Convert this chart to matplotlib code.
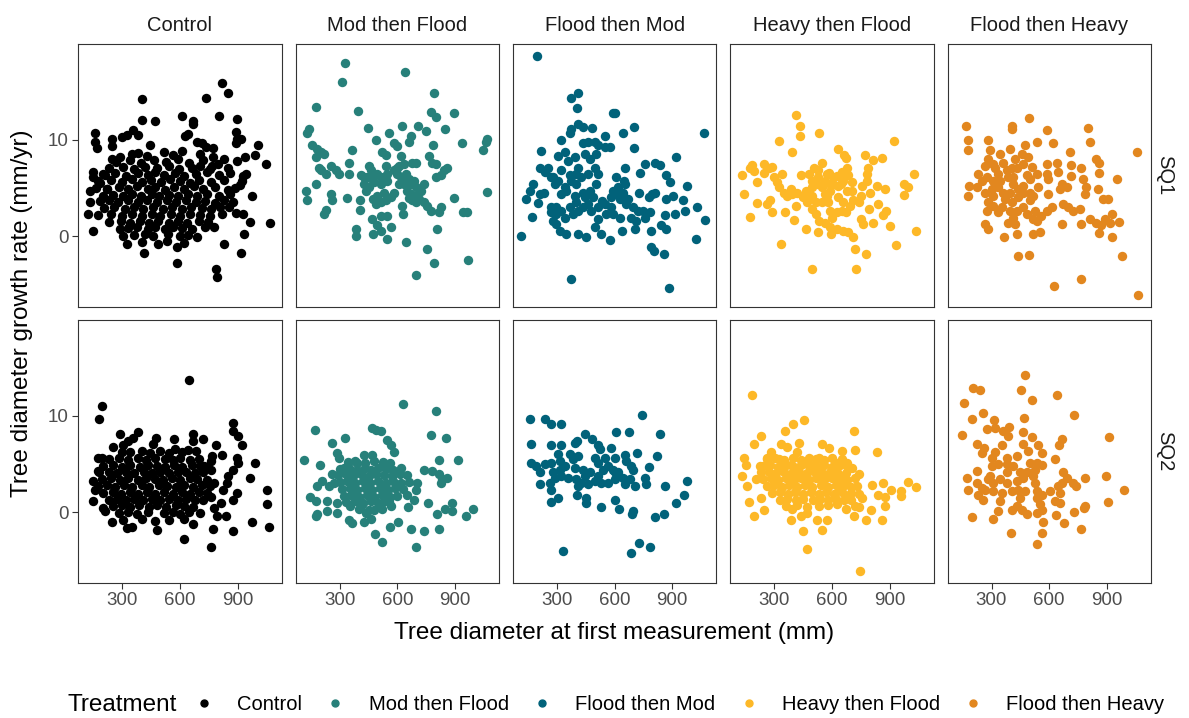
import matplotlib
matplotlib.use("Agg")
import matplotlib.pyplot as plt
from matplotlib.lines import Line2D
import numpy as np

plt.rcParams['font.family'] = ['Liberation Sans', 'DejaVu Sans']

treatments = ["Control", "Mod then Flood", "Flood then Mod", "Heavy then Flood", "Flood then Heavy"]
colours = ["#000000", "#27807A", "#01627A", "#FDB827", "#E2871F"]
periods = ["SQ1", "SQ2"]
x_ticks = [300, 600, 900]
y_ticks = [0, 10]

# (diameter mm, growth mm/yr)
ctrl_sq1 = [
    (820, 15.9), (850, 14.8), (735, 14.3), (402, 14.2), (402, 12.0), (470, 11.9), (609, 12.4), (670, 11.9),
    (670, 11.6), (803, 12.4), (898, 12.1), (158, 10.7), (158, 9.7), (167, 9.1), (245, 10.1), (245, 9.3),
    (297, 10.3), (323, 10.5), (358, 11.0), (383, 10.5), (444, 9.4), (626, 10.4), (644, 10.6), (687, 9.7),
    (713, 9.6), (735, 9.2), (773, 9.1), (890, 10.8), (895, 10.1), (918, 10.1), (890, 9.6), (1004, 9.4),
    (990, 8.4), (1047, 7.5), (936, 8.2), (895, 7.8), (829, 8.0), (773, 8.2), (768, 7.3), (245, 8.0),
    (288, 8.2), (349, 8.5), (150, 6.6), (150, 6.1), (201, 6.4), (184, 5.5), (132, 4.7), (132, 3.5),
    (123, 2.3), (150, 0.55), (201, 4.2), (218, 4.9), (288, 0.7), (305, 0.03), (323, -0.8), (413, -1.8),
    (583, -1.1), (583, -2.8), (487, -0.8), (690, -0.1), (779, 0.9), (831, -0.8), (786, -3.4), (794, -4.2),
    (917, -1.8), (933, 0.2), (964, 1.5), (1068, 1.35), (930, 2.3), (890, 2.4), (857, 3.0), (973, 4.2),
    (920, 5.7), (928, 6.2), (910, 5.3), (945, 6.4),
    (382, 8.6), (428, 8.3), (515, 8.7), (563, 8.4), (612, 8.8), (702, 8.5),
    (268, 7.7), (342, 7.9), (398, 7.6), (466, 7.9), (528, 7.7), (588, 8.0), (648, 7.6), (718, 7.9), (798, 7.5),
    (232, 7.0), (302, 7.2), (361, 6.9), (418, 7.2), (482, 7.0), (541, 7.3), (597, 6.9), (661, 7.1), (703, 7.3),
    (758, 6.9), (852, 7.0),
    (212, 6.3), (262, 6.5), (318, 6.2), (379, 6.5), (431, 6.3), (472, 6.6), (519, 6.3), (572, 6.5), (621, 6.2),
    (683, 6.4), (739, 6.6), (801, 6.3), (862, 6.5),
    (172, 5.7), (243, 5.8), (297, 5.6), (352, 5.9), (401, 5.6), (448, 5.8), (503, 5.6), (548, 5.9), (602, 5.7),
    (652, 5.5), (698, 5.8), (762, 5.6), (828, 5.8),
    (163, 5.0), (222, 4.9), (281, 5.1), (331, 4.9), (378, 5.2), (433, 4.9), (471, 5.1), (522, 4.8), (568, 5.1),
    (619, 4.9), (671, 5.2), (722, 4.9), (781, 5.1), (848, 4.8), (887, 5.0),
    (252, 4.3), (302, 4.2), (349, 4.4), (398, 4.2), (452, 4.4), (491, 4.1), (542, 4.3), (588, 4.2), (641, 4.4),
    (688, 4.2), (742, 4.4), (802, 4.2), (858, 4.4),
    (182, 3.6), (231, 3.7), (279, 3.5), (332, 3.7), (381, 3.5), (428, 3.7), (482, 3.5), (532, 3.7), (578, 3.5),
    (632, 3.7), (681, 3.5), (728, 3.6), (782, 3.4), (828, 3.7), (878, 3.5),
    (203, 2.9), (258, 3.0), (312, 2.8), (361, 3.0), (408, 2.8), (462, 3.0), (511, 2.8), (558, 3.0), (612, 2.8),
    (658, 3.0), (712, 2.9), (762, 2.8), (808, 3.0),
    (172, 2.2), (241, 2.3), (298, 2.1), (352, 2.3), (401, 2.1), (452, 2.3), (498, 2.1), (552, 2.3), (601, 2.1),
    (651, 2.3), (702, 2.2), (758, 2.1), (818, 2.3),
    (232, 1.5), (291, 1.6), (338, 1.4), (392, 1.6), (441, 1.4), (488, 1.6), (541, 1.4), (592, 1.6), (638, 1.4),
    (701, 1.6), (748, 1.5),
    (331, 0.8), (378, 0.9), (432, 0.7), (471, 0.9), (522, 0.7), (561, 0.9), (611, 0.8), (662, 0.7), (728, 0.9),
    (362, 0.1), (418, 0.2), (462, 0.0), (538, 0.2), (598, 0.0), (642, 0.1), (402, -0.6), (532, -0.5), (622, -0.7),
]

mtf_sq1 = [
    (328, 17.9), (310, 16.0), (638, 17.0), (175, 13.4), (395, 13.0), (791, 14.8), (774, 12.9), (800, 12.3),
    (895, 12.7), (449, 11.2), (626, 11.4), (709, 11.4), (747, 10.9), (846, 11.1), (557, 10.7), (487, 10.0),
    (669, 10.4), (660, 9.7), (583, 9.6), (600, 9.3), (140, 11.1), (132, 10.7), (158, 9.4), (184, 9.0),
    (201, 8.7), (175, 8.2), (219, 8.5), (366, 8.9), (349, 7.6), (522, 8.7), (539, 8.4), (617, 8.3),
    (785, 9.4), (765, 8.3), (783, 7.6), (800, 7.5), (938, 9.6), (1068, 10.1), (1059, 9.7), (1047, 8.9),
    (1065, 4.6), (193, 7.1), (201, 6.8), (227, 6.4), (253, 7.3), (279, 6.8), (296, 6.4), (349, 6.4),
    (409, 6.3), (453, 7.3), (461, 6.8), (444, 6.1), (496, 6.4), (539, 7.3), (548, 6.4), (609, 7.3),
    (635, 7.5), (678, 7.6), (695, 7.6), (600, 6.4), (626, 6.1), (660, 5.9), (687, 5.7), (739, 5.4),
    (800, 6.1), (826, 6.3), (861, 7.0), (843, 6.8), (426, 5.4), (453, 5.1), (479, 5.6), (513, 5.4),
    (175, 5.4), (123, 4.7), (132, 3.7), (253, 4.4), (262, 3.7), (340, 3.9), (405, 3.7), (405, 2.7),
    (227, 2.7), (219, 2.3), (475, 3.8), (496, 4.2), (530, 4.5), (583, 4.5), (487, 3.3), (513, 3.5),
    (539, 3.7), (565, 4.0), (635, 5.4), (652, 4.7), (669, 4.4), (695, 4.2), (713, 3.8), (678, 3.7),
    (739, 3.5), (756, 3.1), (774, 2.6), (826, 3.0), (817, 2.5), (895, 3.9), (943, 2.5), (960, 2.5),
    (626, 3.1), (630, 2.3), (470, 1.8), (513, 2.1), (548, 2.1), (496, 1.1), (569, 0.9), (383, 0.7),
    (386, 0.0), (475, 0.2), (513, 0.55), (548, -0.35), (643, -0.6), (752, -1.3), (808, 0.7), (791, -2.8),
    (969, -2.5), (699, -4.0), (426, 6.1), (470, 5.9), (436, 4.7), (583, 6.8), (600, 7.1), (617, 6.1),
    (643, 6.4), (669, 5.4), (695, 5.1), (721, 4.7), (609, 5.4), (548, 5.7), (513, 6.1), (695, 3.5), (660, 3.9),
]

ftm_sq1 = [
    (198, 18.65), (371, 14.3), (409, 14.8), (406, 13.3), (591, 12.7), (603, 12.7), (409, 11.6), (375, 11.1),
    (435, 11.3), (482, 11.2), (323, 10.0), (366, 10.7), (551, 10.4), (643, 10.7), (700, 11.3), (700, 9.1),
    (1065, 10.7), (215, 8.8), (210, 7.0), (305, 8.3), (340, 8.7), (357, 7.8), (435, 9.6), (461, 9.7),
    (496, 9.7), (513, 9.4), (548, 9.2), (574, 9.2), (444, 8.5), (470, 8.0), (505, 8.5), (392, 8.2),
    (409, 7.1), (496, 7.1), (513, 6.4), (505, 5.4), (461, 6.4), (427, 6.1), (401, 6.4), (375, 5.7),
    (288, 5.4), (270, 6.1), (236, 6.6), (175, 5.4), (158, 4.7), (141, 3.8), (210, 4.4), (232, 4.5),
    (323, 4.4), (340, 5.1), (201, 3.4), (172, 2.0), (111, 0.0), (366, 6.3), (401, 5.4), (435, 4.5),
    (470, 4.7), (444, 4.0), (487, 4.0), (401, 3.5), (409, 2.6), (435, 3.0), (461, 3.3), (479, 2.6),
    (513, 3.0), (548, 3.3), (534, 3.6), (583, 4.0), (600, 4.4), (617, 5.1), (652, 5.4), (643, 4.5),
    (626, 3.8), (583, 3.0), (591, 2.3), (556, 2.3), (513, 1.8), (496, 0.9), (527, 0.2), (574, -0.4),
    (409, 0.2), (452, -0.1), (349, 0.2), (314, 0.55), (297, 1.2), (279, 1.6), (267, 2.5), (297, 3.0),
    (323, 2.6), (340, 1.9), (383, 2.3), (366, 3.0), (392, 4.2), (652, 7.1), (648, 5.7), (730, 6.5),
    (756, 7.5), (808, 7.6), (834, 7.4), (917, 8.2), (869, 6.3), (886, 5.6), (978, 5.2), (725, 4.5),
    (794, 4.4), (812, 4.5), (777, 4.0), (869, 3.8), (903, 4.2), (955, 3.7), (964, 2.6), (1029, 3.0),
    (1071, 1.7), (695, 3.0), (721, 2.6), (747, 2.6), (782, 2.5), (687, 1.9), (713, 1.6), (756, 1.9),
    (790, 0.55), (860, 2.2), (912, 2.3), (843, 1.1), (869, 0.7), (704, 0.7), (640, 0.5), (790, -1.1),
    (803, -1.6), (855, -1.9), (1022, -0.35), (371, -4.5), (881, -5.4), (253, 7.1), (279, 6.1), (323, 6.8),
    (305, 5.7), (349, 4.7), (270, 3.0), (297, 2.3), (608, 6.1), (591, 4.7), (669, 3.8), (626, 1.9), (661, 3.3),
]

htf_sq1 = [
    (411, 12.5), (432, 11.4), (432, 10.4), (532, 10.7), (324, 9.9), (390, 8.75), (923, 9.9), (633, 9.0),
    (663, 8.4), (671, 8.1), (772, 8.4), (813, 7.9), (862, 8.1), (182, 7.4), (172, 7.0), (194, 6.7),
    (130, 6.3), (248, 7.5), (248, 6.5), (274, 7.1), (286, 7.2), (298, 6.1), (212, 5.6), (341, 6.4),
    (315, 5.6), (324, 5.1), (350, 4.5), (385, 4.9), (393, 4.4), (367, 4.2), (419, 4.5), (437, 6.3),
    (480, 6.4), (506, 7.1), (546, 7.6), (529, 6.8), (584, 6.5), (626, 6.2), (652, 6.6), (678, 7.0),
    (686, 6.3), (498, 5.7), (520, 5.4), (546, 5.1), (463, 4.7), (449, 4.0), (472, 3.5), (563, 4.4),
    (589, 4.7), (606, 5.4), (633, 5.2), (659, 5.7), (702, 5.6), (754, 5.2), (780, 5.7), (789, 7.0),
    (780, 6.4), (797, 4.5), (832, 5.2), (876, 4.9), (976, 5.4), (997, 5.1), (976, 4.3), (1028, 6.4),
    (141, 4.4), (212, 3.4), (264, 3.3), (278, 3.7), (286, 2.5), (172, 2.0), (354, 2.5), (401, 1.7),
    (414, 3.1), (498, 2.8), (515, 2.3), (532, 1.6), (572, 4.2), (580, 3.5), (589, 2.6), (598, 1.9),
    (589, 0.9), (594, 0.2), (563, 1.4), (624, 2.5), (652, 2.6), (674, 2.5), (709, 3.7), (693, 3.1),
    (624, 0.7), (659, 0.55), (685, 0.4), (711, -0.1), (463, 0.7), (529, 0.4), (753, 1.8), (762, 1.2),
    (793, 2.8), (814, 1.4), (839, 3.3), (879, 2.6), (865, 2.2), (903, 1.0), (1039, 0.5), (931, -0.9),
    (336, -0.8), (720, -1.3), (779, -1.9), (498, -3.4), (727, -3.4), (498, 5.1), (529, 6.1), (563, 5.7),
    (589, 5.4), (572, 6.4), (606, 6.1), (646, 5.4), (678, 4.7), (702, 4.7), (498, 4.2), (515, 3.5),
    (546, 3.5), (633, 4.0), (659, 3.5), (750, 4.2), (741, 3.5),
]

fth_sq1 = [
    (166, 11.4), (179, 10.0), (179, 8.9), (494, 12.2), (409, 11.4), (404, 11.1), (590, 11.0), (803, 11.2),
    (812, 9.7), (283, 10.0), (539, 9.7), (621, 9.6), (473, 9.4), (1058, 8.7), (291, 8.9), (343, 8.5),
    (395, 9.0), (456, 8.5), (491, 8.2), (708, 8.7), (283, 8.0), (265, 7.3), (309, 7.5), (361, 7.6),
    (421, 8.0), (465, 7.5), (513, 7.2), (586, 7.5), (638, 7.6), (711, 7.4), (768, 7.0), (846, 8.0),
    (859, 7.6), (860, 6.5), (954, 5.9), (231, 6.4), (248, 5.7), (184, 5.2), (179, 4.2), (222, 5.1),
    (274, 6.1), (309, 5.7), (335, 6.4), (378, 6.8), (387, 6.1), (430, 7.0), (482, 6.3), (500, 5.9),
    (534, 6.4), (590, 6.4), (595, 5.9), (647, 6.6), (711, 6.2), (777, 5.9), (794, 5.1), (664, 5.4),
    (690, 5.1), (656, 4.9), (856, 4.9), (786, 4.4), (882, 3.8), (908, 3.8), (265, 4.5), (300, 4.9),
    (335, 5.1), (361, 4.5), (413, 5.4), (439, 4.9), (465, 5.2), (543, 5.1), (595, 4.4), (673, 3.3),
    (699, 3.0), (725, 2.6), (760, 2.8), (283, 3.5), (309, 3.1), (335, 2.5), (274, 2.6), (265, 1.2),
    (283, 0.7), (365, -0.1), (387, 1.4), (413, 1.9), (421, 1.2), (430, 0.2), (369, 3.8), (404, 3.5),
    (439, 4.0), (465, 3.0), (500, 3.7), (525, 2.6), (517, 1.8), (482, 2.3), (534, 1.6), (517, 0.2),
    (551, 0.4), (555, 2.1), (590, 2.6), (616, 3.0), (664, 1.2), (768, 1.2), (812, 1.8), (846, 1.4),
    (872, 1.1), (860, 0.3), (890, 1.8), (916, 1.4), (925, 2.3), (963, 1.5), (928, -0.1), (977, -2.1),
    (439, -2.1), (494, -2.0), (768, -4.4), (625, -5.2), (1061, -6.1), (317, 7.0), (404, 7.1), (343, 5.7),
    (413, 6.1), (395, 4.5), (465, 4.5), (309, 4.2), (352, 3.0), (395, 2.6), (430, 2.6), (500, 4.5), (517, 4.2),
]

ctrl_sq2 = [
    (649, 13.7), (193, 11.0), (179, 9.65), (877, 9.2), (877, 8.4), (903, 7.9), (921, 6.9), (288, 8.1),
    (383, 8.3), (357, 7.7), (331, 7.4), (475, 7.7), (461, 7.0), (569, 7.6), (666, 8.1), (670, 7.4),
    (721, 7.6), (253, 6.7), (305, 6.9), (297, 6.2), (574, 6.5), (640, 6.4), (786, 6.9), (765, 5.8),
    (817, 5.9), (175, 5.6), (193, 5.6), (175, 4.25), (990, 5.1), (964, 3.55), (1050, 2.3), (1050, 0.8),
    (1061, -1.5), (976, -1.0), (877, -2.0), (770, -1.8), (760, -3.6), (622, -2.8), (666, -1.2), (482, -1.85),
    (323, -1.7), (349, -1.5), (245, -1.0), (149, 3.2), (158, 2.3), (149, 1.1), (201, 0.4), (210, 0.07),
    (895, 5.6), (903, 5.1), (877, 4.4), (852, 3.7), (843, 3.0), (895, 2.0), (874, 1.3), (822, 2.3),
    (813, 0.9), (839, -0.45), (795, -0.45), (777, 0.4), (760, 1.6), (777, 3.0), (760, 4.4), (760, 5.3),
    (725, 4.8),
    (341, 6.2), (402, 6.3), (442, 6.1), (498, 6.3), (542, 6.1), (608, 6.2), (682, 6.3),
    (232, 5.5), (281, 5.6), (329, 5.4), (381, 5.6), (422, 5.4), (468, 5.6), (521, 5.5), (561, 5.4), (602, 5.6),
    (652, 5.4), (701, 5.5),
    (202, 4.8), (251, 4.9), (298, 4.7), (342, 4.9), (391, 4.7), (432, 4.9), (478, 4.8), (522, 4.7), (568, 4.9),
    (612, 4.7), (661, 4.9), (702, 4.8), (741, 4.7),
    (181, 4.1), (229, 4.2), (272, 4.0), (321, 4.2), (362, 4.0), (411, 4.2), (452, 4.0), (498, 4.2), (541, 4.0),
    (589, 4.2), (632, 4.1), (679, 4.0), (721, 4.2),
    (192, 3.4), (241, 3.5), (289, 3.3), (331, 3.5), (379, 3.3), (421, 3.5), (468, 3.4), (512, 3.3), (558, 3.5),
    (601, 3.3), (651, 3.5), (691, 3.4), (742, 3.3),
    (171, 2.7), (222, 2.8), (261, 2.6), (309, 2.8), (351, 2.6), (402, 2.8), (441, 2.6), (489, 2.8), (531, 2.7),
    (578, 2.6), (621, 2.8), (669, 2.6), (712, 2.8), (758, 2.7),
    (201, 2.0), (249, 2.1), (291, 1.9), (338, 2.1), (382, 1.9), (429, 2.1), (471, 1.9), (518, 2.1), (562, 1.9),
    (609, 2.1), (651, 1.9), (699, 2.1), (741, 2.0),
    (231, 1.3), (272, 1.4), (319, 1.2), (361, 1.4), (409, 1.2), (452, 1.4), (498, 1.2), (541, 1.4), (588, 1.2),
    (631, 1.4), (679, 1.3), (722, 1.2),
    (251, 0.6), (298, 0.7), (342, 0.5), (389, 0.7), (441, 0.5), (481, 0.7), (528, 0.5), (579, 0.7), (621, 0.6),
    (668, 0.5),
    (281, -0.1), (329, 0.0), (378, -0.2), (432, 0.0), (518, -0.1), (561, 0.0), (601, -0.2), (649, 0.0), (702, -0.1),
    (302, -0.8), (401, -0.7), (468, -0.9), (541, -0.8), (619, -0.7),
]

mtf_sq2 = [
    (629, 11.2), (803, 10.5), (172, 8.5), (470, 8.7), (487, 8.5), (513, 8.4), (326, 7.7), (262, 7.2),
    (773, 8.0), (851, 7.7), (548, 7.5), (565, 6.9), (583, 6.2), (114, 5.4), (198, 4.9), (288, 6.1),
    (296, 5.6), (427, 5.9), (470, 5.9), (392, 5.1), (817, 5.4), (916, 5.4), (739, 4.35), (782, 4.25),
    (817, 3.9), (834, 3.4), (860, 3.55), (825, 3.0), (322, 4.6), (348, 4.1), (262, 3.9), (210, 3.2),
    (183, 2.7), (148, 1.6), (175, 1.1), (236, 1.1), (180, -0.17), (175, -0.45), (236, 0.07), (288, -0.1),
    (348, -0.8), (366, -1.15), (427, -1.0), (465, -0.7), (482, -2.3), (518, -3.1), (562, -1.6), (603, -1.0),
    (669, -1.8), (739, -2.0), (817, -1.8), (695, -3.6), (761, 0.9), (806, -0.2), (848, 0.3), (886, 0.9),
    (886, 0.07), (955, -0.45), (995, 0.3), (652, 1.8), (695, 2.3), (686, 1.3), (657, 0.5), (565, 0.6),
    (531, 1.1), (479, 0.25), (436, -0.1), (409, 0.6), (352, 0.6), (288, 0.9), (244, 2.7), (270, 3.0),
    (341, 5.2), (382, 5.3), (431, 5.1), (478, 5.3), (528, 5.2), (561, 5.1),
    (301, 4.5), (348, 4.6), (391, 4.4), (431, 4.6), (462, 4.4), (502, 4.6), (541, 4.5), (579, 4.4), (621, 4.6),
    (289, 3.8), (331, 3.9), (371, 3.7), (409, 3.9), (452, 3.7), (491, 3.9), (529, 3.8), (571, 3.7), (612, 3.9),
    (649, 3.8),
    (302, 3.1), (339, 3.2), (381, 3.0), (421, 3.2), (459, 3.0), (501, 3.2), (541, 3.0), (579, 3.2), (621, 3.0),
    (661, 3.1), (702, 3.0),
    (311, 2.4), (352, 2.5), (389, 2.3), (431, 2.5), (471, 2.3), (509, 2.5), (551, 2.3), (589, 2.5), (631, 2.4),
    (321, 1.7), (359, 1.8), (401, 1.6), (441, 1.8), (479, 1.6), (521, 1.8), (561, 1.6), (601, 1.7),
    (331, 1.0), (381, 1.1), (419, 0.9), (461, 1.1), (502, 0.9), (559, 1.0), (401, 0.3), (451, 0.2), (521, 0.3),
]

ftm_sq2 = [
    (158, 9.6), (236, 9.6), (267, 9.1), (323, 9.1), (742, 10.1), (166, 7.0), (271, 6.9), (323, 6.9),
    (392, 7.2), (406, 7.4), (444, 8.1), (484, 7.6), (605, 8.3), (675, 8.3), (838, 8.1), (822, 5.8),
    (513, 6.9), (522, 6.5), (579, 6.6), (603, 5.6), (652, 5.9), (718, 6.1), (660, 5.3), (687, 4.8),
    (695, 4.4), (777, 4.7), (756, 3.55), (765, 2.9), (860, 2.7), (978, 3.2), (961, 1.8), (921, 0.9),
    (857, -0.17), (812, -0.5), (695, 0.07), (690, -0.17), (621, 0.3), (600, 1.2), (527, 0.5), (453, 0.9),
    (449, 1.5), (406, 1.8), (271, 1.0), (306, 1.5), (267, 2.3), (210, 2.9), (331, -4.0), (725, -3.2),
    (782, -3.6), (687, -4.2), (166, 5.05), (192, 4.8), (210, 4.1), (236, 4.95), (271, 5.1), (305, 6.0),
    (314, 5.3), (366, 6.0), (383, 5.5), (340, 4.8), (392, 4.6), (435, 4.4), (470, 4.1), (513, 5.1),
    (539, 4.4), (565, 4.8), (591, 4.4), (617, 4.1), (643, 3.55), (678, 3.4), (704, 2.7), (652, 2.9),
    (600, 3.4), (565, 3.0), (530, 3.0), (496, 3.2), (461, 2.9), (427, 3.0), (401, 3.4), (357, 3.55),
    (323, 3.7), (288, 3.55), (262, 3.0), (279, 4.1), (314, 4.4), (409, 5.8), (496, 5.6), (548, 5.6),
    (444, 3.7), (513, 3.7), (409, 2.7), (600, 4.1),
]

htf_sq2 = [
    (182, 12.1), (454, 9.5), (399, 9.1), (355, 8.4), (232, 7.9), (194, 7.1), (714, 8.4), (832, 6.2),
    (719, 6.4), (654, 6.3), (550, 7.1), (584, 6.6), (428, 7.2), (333, 7.1), (367, 6.7), (420, 6.2),
    (281, 6.2), (264, 5.6), (142, 5.6), (151, 4.9), (130, 3.7), (160, 2.7), (224, 4.8), (203, 3.4),
    (171, 1.0), (194, -0.45), (246, 0.24), (229, 1.5), (324, 5.5), (350, 4.8), (385, 4.9), (411, 4.1),
    (472, 5.1), (498, 4.8), (532, 5.6), (550, 4.8), (524, 4.1), (576, 3.7), (628, 5.1), (680, 5.1),
    (706, 4.6), (740, 3.9), (645, 3.7), (637, 2.3), (689, 1.8), (732, 2.7), (758, 1.5), (810, 2.8),
    (866, 3.0), (840, 1.8), (875, 1.6), (875, 0.6), (906, 2.3), (961, 2.2), (961, 1.7), (996, 3.1),
    (1038, 2.6), (802, 0.24), (775, -0.8), (858, -0.8), (714, -0.45), (671, 0.3), (628, 0.8), (576, -0.8),
    (524, -0.8), (550, -1.85), (472, -0.1), (437, -0.45), (385, -0.8), (394, 0.3), (449, -2.0), (472, -3.8),
    (746, -6.1),
    (261, 5.5), (302, 5.6), (351, 5.4), (399, 5.6), (441, 5.4), (481, 5.6), (519, 5.5), (561, 5.4), (601, 5.6),
    (651, 5.5),
    (241, 4.8), (279, 4.9), (321, 4.7), (361, 4.9), (402, 4.7), (441, 4.9), (479, 4.8), (521, 4.7), (559, 4.9),
    (601, 4.7), (641, 4.9), (681, 4.8),
    (231, 4.1), (271, 4.2), (309, 4.0), (351, 4.2), (391, 4.0), (429, 4.2), (471, 4.0), (511, 4.2), (549, 4.0),
    (591, 4.2), (629, 4.1), (671, 4.0),
    (241, 3.4), (281, 3.5), (319, 3.3), (361, 3.5), (401, 3.3), (439, 3.5), (481, 3.3), (519, 3.5), (561, 3.3),
    (601, 3.5), (639, 3.4), (681, 3.3), (721, 3.5),
    (261, 2.7), (299, 2.8), (341, 2.6), (379, 2.8), (421, 2.6), (461, 2.8), (499, 2.6), (541, 2.8), (579, 2.6),
    (621, 2.8), (659, 2.7), (701, 2.6),
    (291, 2.0), (329, 2.1), (371, 1.9), (409, 2.1), (451, 1.9), (489, 2.1), (531, 1.9), (571, 2.1), (609, 1.9),
    (651, 2.1), (701, 2.0), (739, 1.9),
    (331, 1.3), (369, 1.4), (411, 1.2), (449, 1.4), (501, 1.2), (539, 1.4), (581, 1.2), (619, 1.4), (661, 1.2),
    (701, 1.3),
    (361, 0.6), (421, 0.7), (469, 0.5), (531, 0.6), (579, 0.7), (721, 0.6), (741, 0.5),
]

fth_sq2 = [
    (473, 14.2), (205, 12.9), (239, 12.6), (453, 12.6), (642, 12.1), (158, 11.3), (508, 11.6), (730, 10.1),
    (201, 9.6), (257, 10.3), (314, 9.5), (470, 9.7), (149, 8.0), (274, 8.6), (317, 8.7), (361, 8.4),
    (392, 8.8), (387, 7.9), (465, 8.3), (512, 7.8), (664, 7.6), (652, 6.9), (912, 7.8), (222, 7.1),
    (260, 6.6), (248, 6.1), (352, 6.9), (317, 6.2), (465, 7.0), (491, 6.3), (543, 6.9), (560, 6.1),
    (433, 5.8), (378, 5.6), (629, 5.5), (300, 5.6), (300, 4.8), (335, 4.95), (378, 4.95), (413, 4.8),
    (500, 5.1), (534, 5.05), (560, 4.85), (222, 4.25), (170, 3.55), (177, 2.3), (222, 3.0), (248, 2.5),
    (231, 1.8), (257, 1.3), (291, 3.7), (309, 3.0), (343, 3.4), (378, 4.1), (352, 2.0), (343, 1.1),
    (335, 0.07), (306, -0.7), (201, -0.5), (401, -2.2), (404, 2.2), (439, 2.3), (447, 1.5), (473, 2.2),
    (447, 4.1), (482, 4.1), (517, 3.7), (525, 4.4), (525, 3.0), (534, 2.2), (534, 1.5), (560, 1.8),
    (551, 0.8), (560, 0.24), (534, -0.1), (569, -1.0), (560, -2.2), (536, -3.3), (603, 2.2), (629, 1.1),
    (633, -0.3), (655, 0.9), (655, 2.0), (648, 2.7), (664, 3.0), (673, 4.1), (690, 3.55), (725, 3.0),
    (737, 2.7), (785, 3.55), (728, 0.0), (676, -1.1), (765, -1.8), (780, 0.4), (785, 0.6), (893, 3.7),
    (907, 1.0), (988, 2.3), (465, 3.55), (430, 3.2), (378, 3.0), (404, 0.24), (430, 0.6), (456, 0.24),
    (482, -0.17), (309, 2.2), (283, 3.4), (265, 2.3),
]

panels = {
    ("SQ1", "Control"): ctrl_sq1, ("SQ1", "Mod then Flood"): mtf_sq1, ("SQ1", "Flood then Mod"): ftm_sq1,
    ("SQ1", "Heavy then Flood"): htf_sq1, ("SQ1", "Flood then Heavy"): fth_sq1,
    ("SQ2", "Control"): ctrl_sq2, ("SQ2", "Mod then Flood"): mtf_sq2, ("SQ2", "Flood then Mod"): ftm_sq2,
    ("SQ2", "Heavy then Flood"): htf_sq2, ("SQ2", "Flood then Heavy"): fth_sq2,
}

fig = plt.figure(figsize=(11.89, 7.18), dpi=100)
W, H = 1189, 718
left0, pw, step = 78.3, 203.4, 217.3
tops = [44, 320]
ph = 262.5

for r, per in enumerate(periods):
    for c, tr in enumerate(treatments):
        ax = fig.add_axes([(left0 + c * step) / W, 1 - (tops[r] + ph) / H, pw / W, ph / H])
        pts = np.array(panels[(per, tr)])
        ax.scatter(pts[:, 0], pts[:, 1], s=46, color=colours[c], linewidths=0, zorder=3)
        ax.set_xlim(71, 1129)
        ax.set_ylim(-7.3, 19.9)
        ax.set_xticks(x_ticks)
        ax.set_yticks(y_ticks)
        for sp in ax.spines.values():
            sp.set_color("#333333")
            sp.set_linewidth(0.8)
        ax.tick_params(length=4, width=0.8, color="#333333", labelcolor="#4D4D4D", labelsize=13.5, pad=3)
        if r == 0:
            ax.tick_params(axis="x", bottom=False, labelbottom=False)
            ax.text(0.5, 1.072, tr, transform=ax.transAxes, ha="center", va="center", fontsize=14.5, color="#1A1A1A")
        if c > 0:
            ax.tick_params(axis="y", left=False, labelleft=False)
        if c == len(treatments) - 1:
            ax.text(1.07, 0.5, per, transform=ax.transAxes, ha="center", va="center", rotation=-90,
                    fontsize=14.5, color="#1A1A1A")

fig.text(614 / W, 1 - 633 / H, "Tree diameter at first measurement (mm)", ha="center", va="center", fontsize=17.5)
fig.text(22 / W, 1 - 313 / H, "Tree diameter growth rate (mm/yr)", ha="center", va="center", rotation=90, fontsize=17.5)

handles = [Line2D([], [], marker="o", linestyle="none", markersize=5, color=col) for col in colours]
fig.text(67 / W, 1 - 705 / H, "Treatment", ha="left", va="center", fontsize=17.5)
fig.legend(handles, treatments, loc="center left", bbox_to_anchor=(199 / W, 1 - 705 / H), ncol=5, frameon=False,
           fontsize=14.5, handlelength=0.5, handletextpad=1.4, columnspacing=1.4, borderpad=0, borderaxespad=0)

fig.savefig("out.png", dpi=100)
